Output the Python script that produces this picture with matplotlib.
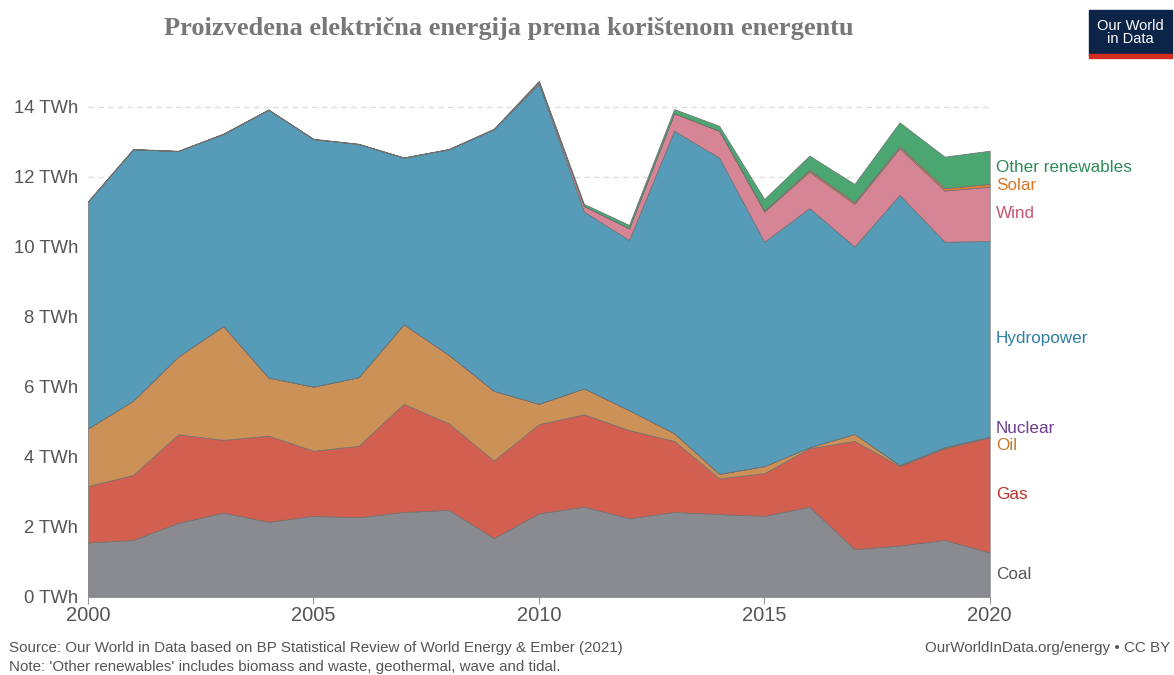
"""
Electricity production by source, stacked area (OWID style).
"""

import matplotlib.pyplot as plt
from matplotlib.patches import Rectangle

years = list(range(2000, 2021))

coal = [1.55, 1.62, 2.11, 2.40, 2.14, 2.31, 2.27, 2.42, 2.48, 1.67, 2.38,
        2.57, 2.24, 2.42, 2.36, 2.31, 2.57, 1.36, 1.46, 1.62, 1.26]
gas = [1.61, 1.86, 2.53, 2.08, 2.46, 1.86, 2.04, 3.09, 2.47, 2.22, 2.55,
       2.64, 2.52, 2.03, 1.02, 1.22, 1.67, 3.09, 2.27, 2.62, 3.29]
oil = [1.65, 2.12, 2.22, 3.25, 1.66, 1.83, 1.96, 2.27, 1.96, 1.99, 0.58,
       0.74, 0.57, 0.22, 0.13, 0.20, 0.03, 0.20, 0.03, 0.03, 0.02]
nuclear = [0.0] * 21
hydro = [6.48, 7.18, 5.87, 5.49, 7.65, 7.07, 6.66, 4.76, 5.87, 7.47, 9.14,
         5.05, 4.86, 8.64, 9.03, 6.41, 6.83, 5.35, 7.72, 5.87, 5.59]
wind = [0, 0, 0, 0, 0, 0, 0, 0, 0, 0, 0.05,
        0.16, 0.33, 0.50, 0.77, 0.86, 1.04, 1.22, 1.33, 1.46, 1.55]
solar = [0, 0, 0, 0, 0, 0, 0, 0, 0, 0, 0,
         0, 0, 0, 0, 0.03, 0.05, 0.05, 0.05, 0.07, 0.08]
other = [0.01, 0.01, 0.01, 0.01, 0.01, 0.01, 0.01, 0.01, 0.01, 0.02, 0.04,
         0.06, 0.10, 0.12, 0.14, 0.33, 0.41, 0.52, 0.69, 0.90, 0.95]

names = ["Coal", "Gas", "Oil", "Nuclear", "Hydropower", "Wind", "Solar",
         "Other renewables"]
series = [coal, gas, oil, nuclear, hydro, wind, solar, other]
fills = ["#898b91", "#d35f50", "#cc9157", "#7b4e9a", "#569bb8", "#d58595",
         "#e07b35", "#4ba672"]
label_colors = ["#555555", "#b8322a", "#c27a2c", "#6d3e91", "#2f7ea5",
                "#c9556f", "#d9782b", "#2e8b57"]

title = "Proizvedena električna energija prema korištenom energentu"
source = ("Source: Our World in Data based on BP Statistical Review of World "
          "Energy & Ember (2021)")
note = ("Note: 'Other renewables' includes biomass and waste, geothermal, "
        "wave and tidal.")
link = "OurWorldInData.org/energy • CC BY"

plt.rcParams["font.family"] = ["Liberation Sans", "DejaVu Sans"]

fig = plt.figure(figsize=(11.74, 6.75), dpi=100)
ax = fig.add_axes([0.075, 0.116, 0.768, 0.778])

ax.stackplot(years, *series, colors=fills, edgecolor="#707070",
             linewidth=0.5)

ax.set_xlim(2000, 2020)
ax.set_ylim(0, 15)
ax.set_yticks(range(0, 15, 2))
ax.set_yticklabels([f"{v} TWh" for v in range(0, 15, 2)])
ax.set_xticks([2000, 2005, 2010, 2015, 2020])
ax.tick_params(axis="y", length=0, labelsize=13.3, colors="#555555", pad=7)
ax.tick_params(axis="x", length=5, labelsize=14.5, colors="#555555",
               color="#999999", pad=2)
ax.grid(axis="y", linestyle=(0, (4, 3)), color="#dddddd", linewidth=1)
ax.set_axisbelow(True)
for s in ["left", "right", "top"]:
    ax.spines[s].set_visible(False)
ax.spines["bottom"].set_color("#999999")

# right-hand labels at the middle of each band, pushed apart where crowded
mids = []
acc = [0.0] * len(years)
for s in series:
    low = acc[-1]
    acc = [a + v for a, v in zip(acc, s)]
    mids.append((low + acc[-1]) / 2)
pos = list(mids)
gap = 0.48
for _ in range(50):
    for i in range(len(pos) - 1):
        d = pos[i + 1] - pos[i]
        if d < gap:
            shift = (gap - d) / 2
            pos[i] -= shift
            pos[i + 1] += shift
for name, y, c in zip(names, pos, label_colors):
    ax.text(1.007, y, name, transform=ax.get_yaxis_transform(), color=c,
            fontsize=12.3, va="center", ha="left", clip_on=False)

fig.text(0.433, 0.958, title, fontsize=19, fontweight="bold",
         family="Liberation Serif", color="#777777", ha="center", va="center")

# logo
fig.patches.append(Rectangle((0.9275, 0.918), 0.071, 0.067,
                             transform=fig.transFigure, color="#0b2447"))
fig.patches.append(Rectangle((0.9275, 0.914), 0.071, 0.006,
                             transform=fig.transFigure, color="#d42b21"))
fig.text(0.963, 0.952, "Our World\nin Data", color="white", fontsize=10.5,
         ha="center", va="center", linespacing=0.95)

fig.text(0.008, 0.040, source, fontsize=10.9, color="#555555", ha="left",
         va="center")
fig.text(0.008, 0.002, note, fontsize=10.9, color="#555555", ha="left",
         va="bottom")
fig.text(0.997, 0.040, link, fontsize=10.9, color="#555555", ha="right",
         va="center")

fig.savefig("out.png", dpi=100)
